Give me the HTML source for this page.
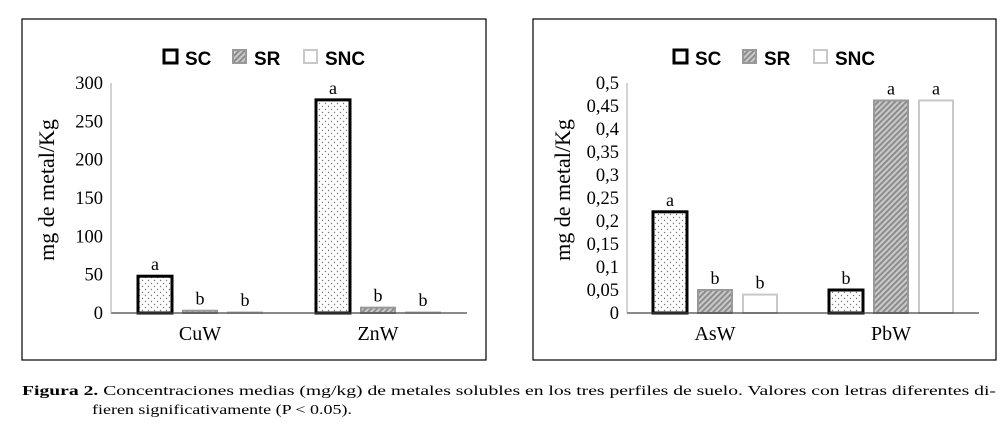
<!DOCTYPE html>
<html><head><meta charset="utf-8"><style>
body{margin:0;background:#fff;width:1004px;height:423px;overflow:hidden}
svg{display:block}
</style></head><body>
<svg width="1004" height="423" xmlns="http://www.w3.org/2000/svg">
<defs>
<pattern id="dots" width="6" height="6" patternUnits="userSpaceOnUse"><rect width="6" height="6" fill="#fff"/><circle cx="1.5" cy="1.5" r="0.7" fill="#777"/><circle cx="4.5" cy="4.5" r="0.7" fill="#777"/></pattern>
<pattern id="hatch" width="4" height="4" patternUnits="userSpaceOnUse" patternTransform="rotate(45)"><rect width="4" height="4" fill="#c8c8c8"/><rect width="1.8" height="4" fill="#888"/></pattern>
</defs>
<rect x="22" y="19" width="464" height="341" fill="none" stroke="#000" stroke-width="1.2"/>
<rect x="533" y="19" width="463" height="341" fill="none" stroke="#000" stroke-width="1.2"/>
<g id="left"></g>
<g id="right"></g>
<text x="22" y="395" font-family="Liberation Serif, serif" font-size="14" textLength="974" lengthAdjust="spacingAndGlyphs"><tspan font-weight="bold">Figura 2.</tspan> Concentraciones medias (mg/kg) de metales solubles en los tres perfiles de suelo. Valores con letras diferentes di-</text>
<text x="92" y="414" font-family="Liberation Serif, serif" font-size="14" textLength="260" lengthAdjust="spacingAndGlyphs">fieren significativamente (P &lt; 0.05).</text>
</svg>
<script>
const seriesNames=["SC","SR","SNC"];
const leftCategories=["CuW","ZnW"];
const leftValues=[[48,278],[3,7],[1,1]];
const leftLetters=[["a","a"],["b","b"],["b","b"]];
const leftTicks=["0","50","100","150","200","250","300"];
const rightCategories=["AsW","PbW"];
const rightValues=[[0.22,0.05],[0.05,0.462],[0.04,0.462]];
const rightLetters=[["a","b"],["b","a"],["b","a"]];
const rightTicks=["0","0,05","0,1","0,15","0,2","0,25","0,3","0,35","0,4","0,45","0,5"];
const NS="http://www.w3.org/2000/svg";
const fills=["url(#dots)","url(#hatch)","#fff"],strokes=["#000","#999","#c8c8c8"],sw=[3,2,2];
function mk(p,t,a){const e=document.createElementNS(NS,t);for(const k in a)e.setAttribute(k,a[k]);p.appendChild(e);return e;}
function draw(g,cfg,cats,vals,letters,ticks,max){
 const y=v=>cfg.y0-(v/max)*(cfg.y0-cfg.yTop);
 const gw=(cfg.xEnd-cfg.x0)/cats.length;
 ticks.forEach((t,i)=>{const v=max*i/(ticks.length-1);const e=mk(g,"text",{x:cfg.x0-8,y:y(v)+6,"text-anchor":"end","font-family":"Liberation Serif, serif","font-size":"18.5"});e.textContent=t;
 
 });
 cats.forEach((c,ci)=>{const cx=cfg.x0+gw*(ci+0.5);
  for(let s=0;s<3;s++){const v=vals[s][ci];const bx=cx-62+s*45;const top=y(v);
   const r=mk(g,"rect",{x:bx,y:top,width:34,height:Math.max(cfg.y0-top,0.5),fill:fills[s],stroke:strokes[s],"stroke-width":sw[s]});
   
   
   const l=mk(g,"text",{x:bx+17,y:top-6,"text-anchor":"middle","font-family":"Liberation Serif, serif","font-size":"18"});l.textContent=letters[s][ci];
   
   }
  const t=mk(g,"text",{x:cx,y:cfg.y0+27,"text-anchor":"middle","font-family":"Liberation Serif, serif","font-size":"20"});t.textContent=c;
  
  });
 const ax=mk(g,"line",{x1:cfg.x0,y1:cfg.y0,x2:cfg.xEnd,y2:cfg.y0,stroke:"#444","stroke-width":1.3});
 
 
 const ay=mk(g,"line",{x1:cfg.x0,y1:cfg.yTop,x2:cfg.x0,y2:cfg.y0,stroke:"#aaa","stroke-width":1});
 
 
 const yl=mk(g,"text",{x:0,y:0,transform:`translate(${cfg.labX},190) rotate(-90)`,"text-anchor":"middle","font-family":"Liberation Serif, serif","font-size":"22"});yl.textContent="mg de metal/Kg";
 
 
 const lx=[cfg.legX,cfg.legX+69,cfg.legX+140];
 seriesNames.forEach((n,i)=>{const b=mk(g,"rect",{x:lx[i],y:50,width:13,height:13,fill:fills[i]==="url(#dots)"?"#fff":fills[i],stroke:strokes[i],"stroke-width":sw[i]});
  
  
  const t=mk(g,"text",{x:lx[i]+21,y:65,"font-family":"Liberation Sans, sans-serif","font-weight":"bold","font-size":"19"});t.textContent=n;
  
  });
}
draw(document.getElementById("left"),{x0:111,xEnd:467,y0:313,yTop:83,labX:54,legX:164},leftCategories,leftValues,leftLetters,leftTicks,300);
draw(document.getElementById("right"),{x0:627,xEnd:979,y0:313,yTop:83,labX:570,legX:674},rightCategories,rightValues,rightLetters,rightTicks,0.5);
</script>
</body></html>
